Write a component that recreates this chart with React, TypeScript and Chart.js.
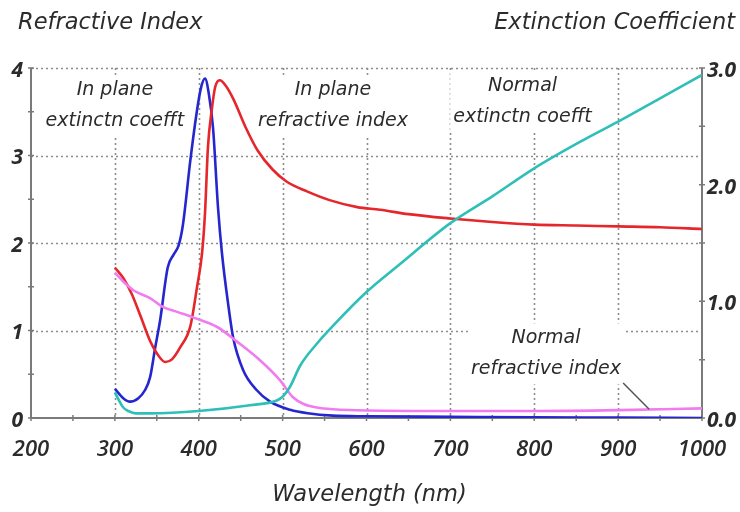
import React, { useEffect, useRef } from "react";
import { Chart, registerables } from "chart.js";

Chart.register(...registerables);

// ---------- data ----------
const wavelengthTicks = [200, 300, 400, 500, 600, 700, 800, 900, 1000];
const leftTicks = [0, 1, 2, 3, 4];
const leftTickLabels = ["0", "1", "2", "3", "4"];
const rightTicks = [0, 1, 2, 3];
const rightTickLabels = ["0.0", "1.0", "2.0", "3.0"];

// In plane refractive index (left axis)
const inPlaneRefrX = [300, 310, 320, 330, 342, 350, 360, 368, 378, 390, 398, 404, 407.5, 411, 415.5, 419.5, 425, 432, 441, 457, 470, 488, 505, 529, 556, 589, 616, 650, 700, 750, 800, 850, 900, 950, 1000];
const inPlaneRefrY = [1.72, 1.6, 1.42, 1.18, 0.88, 0.74, 0.64, 0.67, 0.81, 1.05, 1.5, 1.89, 2.35, 3.1, 3.52, 3.78, 3.86, 3.8, 3.65, 3.3, 3.06, 2.84, 2.7, 2.59, 2.49, 2.41, 2.38, 2.33, 2.28, 2.24, 2.21, 2.2, 2.19, 2.18, 2.16];

// In plane extinction coefficient (right axis)
const inPlaneExtX = [300, 310, 318, 328, 336, 342, 348, 354, 363, 370, 376, 381, 390, 398, 403, 407.5, 412, 417, 423, 427.7, 435, 441, 453, 469, 485, 509, 530, 560, 600, 700, 800, 900, 1000];
const inPlaneExtY = [0.25, 0.17, 0.14, 0.17, 0.24, 0.35, 0.6, 0.84, 1.29, 1.4, 1.48, 1.65, 2.21, 2.64, 2.84, 2.91, 2.78, 2.49, 1.8, 1.41, 0.98, 0.69, 0.41, 0.24, 0.14, 0.07, 0.04, 0.02, 0.015, 0.01, 0.005, 0.003, 0.0];

// Normal extinction coefficient (right axis)
const normalExtX = [300, 305, 310, 316, 325, 342, 400, 461, 493, 501, 509, 521, 540, 560, 600, 640, 700, 750, 800, 858, 900, 950, 1000];
const normalExtY = [0.22, 0.15, 0.09, 0.06, 0.04, 0.04, 0.06, 0.11, 0.15, 0.19, 0.27, 0.45, 0.63, 0.79, 1.08, 1.32, 1.67, 1.9, 2.14, 2.38, 2.54, 2.74, 2.94];

// Normal refractive index (left axis)
const normalRefrX = [300, 310, 322, 342, 357, 375, 393, 422, 446, 473, 497, 512, 525, 541, 560, 600, 700, 800, 900, 1000];
const normalRefrY = [1.66, 1.56, 1.46, 1.37, 1.27, 1.21, 1.15, 1.04, 0.87, 0.66, 0.43, 0.24, 0.16, 0.12, 0.1, 0.085, 0.08, 0.08, 0.09, 0.11];

// Annotation labels (anchored in data coordinates: wavelength, left-axis value)
const annotationLines = [
  ["In plane", "extinctn coefft"],
  ["In plane", "refractive index"],
  ["Normal", "extinctn coefft"],
  ["Normal", "refractive index"],
];
const annotationX = [300, 560, 786, 814];
const annotationY = [3.75, 3.75, 3.79, 0.91];
const pointerFrom = [906, 0.4];
const pointerTo = [937, 0.1];

const leftTitle = "Refractive Index";
const rightTitle = "Extinction Coefficient";
const xTitle = "Wavelength (nm)";

// ---------- styles ----------
const FAMILY = "'DejaVu Sans', 'Open Sans', sans-serif";
const TICK_FAMILY = "'Open Sans', Lato, sans-serif";
const TEXT = "#2b2b2b";
const AXIS = "#7a7a7a";
const GRID = "#8c8c8c";

const toPoints = (xs: number[], ys: number[]) => xs.map((x, i) => ({ x, y: ys[i] }));

const decorPlugin = {
  id: "decor",
  beforeDatasetsDraw(chart: any) {
    const ctx = chart.ctx as CanvasRenderingContext2D;
    const { left, right, top, bottom } = chart.chartArea;
    const xs = chart.scales.x;
    const ys = chart.scales.y;
    const y2 = chart.scales.y2;
    ctx.save();
    // dotted grid
    ctx.strokeStyle = GRID;
    ctx.lineWidth = 1.6;
    ctx.setLineDash([2, 3]);
    for (const v of wavelengthTicks) {
      if (v <= 200 || v >= 1000) continue;
      const px = Math.round(xs.getPixelForValue(v)) + 0.5;
      ctx.beginPath();
      ctx.moveTo(px, top);
      ctx.lineTo(px, bottom);
      ctx.stroke();
    }
    for (const v of leftTicks) {
      if (v === 0) continue;
      const py = Math.round(ys.getPixelForValue(v)) + 0.5;
      ctx.beginPath();
      ctx.moveTo(left, py);
      ctx.lineTo(right, py);
      ctx.stroke();
    }
    ctx.setLineDash([]);
    // white boxes behind labels (break the grid)
    ctx.font = `oblique normal 19px ${FAMILY}`;
    annotationLines.forEach((lines, i) => {
      const cx = xs.getPixelForValue(annotationX[i]);
      const cy = ys.getPixelForValue(annotationY[i]);
      const w = Math.max(...lines.map((t) => ctx.measureText(t).width)) + 6;
      const h0 = cy - 15;
      const h1 = cy + 31 * (lines.length - 1) + 15;
      ctx.fillStyle = "#ffffff";
      ctx.fillRect(cx - w / 2, h0, w, h1 - h0);
    });
    // axes
    ctx.strokeStyle = AXIS;
    ctx.lineWidth = 2;
    ctx.beginPath();
    ctx.moveTo(left, top);
    ctx.lineTo(left, bottom);
    ctx.moveTo(right, top);
    ctx.lineTo(right, bottom);
    ctx.moveTo(left, bottom);
    ctx.lineTo(right, bottom);
    ctx.stroke();
    // tick marks
    ctx.lineWidth = 1.5;
    ctx.beginPath();
    for (let v = 0; v <= 4.001; v += 0.5) {
      const py = ys.getPixelForValue(v);
      ctx.moveTo(left - 3, py);
      ctx.lineTo(left + 3, py);
    }
    for (let v = 0; v <= 3.001; v += 0.5) {
      const py = y2.getPixelForValue(v);
      ctx.moveTo(right - 3, py);
      ctx.lineTo(right + 3, py);
    }
    for (let v = 200; v <= 1000; v += 50) {
      const px = xs.getPixelForValue(v);
      ctx.moveTo(px, bottom - 3);
      ctx.lineTo(px, bottom + 3);
    }
    ctx.stroke();
    ctx.restore();
  },
  afterDatasetsDraw(chart: any) {
    const ctx = chart.ctx as CanvasRenderingContext2D;
    const { left, right, bottom } = chart.chartArea;
    const xs = chart.scales.x;
    const ys = chart.scales.y;
    const y2 = chart.scales.y2;
    ctx.save();
    ctx.fillStyle = TEXT;
    ctx.textBaseline = "middle";
    // annotations
    ctx.font = `oblique normal 19px ${FAMILY}`;
    ctx.textAlign = "center";
    annotationLines.forEach((lines, i) => {
      const cx = xs.getPixelForValue(annotationX[i]);
      const cy = ys.getPixelForValue(annotationY[i]);
      lines.forEach((t, j) => ctx.fillText(t, cx, cy + 31 * j));
    });
    // pointer
    ctx.strokeStyle = "#555555";
    ctx.lineWidth = 1.5;
    ctx.beginPath();
    ctx.moveTo(xs.getPixelForValue(pointerFrom[0]), ys.getPixelForValue(pointerFrom[1]));
    ctx.lineTo(xs.getPixelForValue(pointerTo[0]), ys.getPixelForValue(pointerTo[1]));
    ctx.stroke();
    // x tick labels
    ctx.font = `italic 600 22px ${TICK_FAMILY}`;
    ctx.textAlign = "center";
    wavelengthTicks.forEach((v) => ctx.fillText(String(v), xs.getPixelForValue(v), bottom + 32));
    // left tick labels
    ctx.font = `italic bold 21px ${TICK_FAMILY}`;
    ctx.textAlign = "right";
    leftTicks.forEach((v, i) => ctx.fillText(leftTickLabels[i], left - 8, ys.getPixelForValue(v) + 3));
    // right tick labels
    ctx.textAlign = "left";
    rightTicks.forEach((v, i) => ctx.fillText(rightTickLabels[i], right + 5, y2.getPixelForValue(v) + 3));
    // titles
    ctx.font = `oblique normal 22.5px ${FAMILY}`;
    ctx.textAlign = "left";
    ctx.fillText(leftTitle, 18, 23);
    ctx.textAlign = "right";
    ctx.fillText(rightTitle, 735, 23);
    ctx.textAlign = "center";
    ctx.fillText(xTitle, (left + right) / 2 + 3, 495);
    ctx.restore();
  },
};

export default function App() {
  const ref = useRef<HTMLCanvasElement | null>(null);
  useEffect(() => {
    if (!ref.current) return;
    const common = {
      pointRadius: 0,
      borderWidth: 2.6,
      fill: false,
      cubicInterpolationMode: "monotone" as const,
    };
    const chart = new Chart(ref.current, {
      type: "line",
      data: {
        datasets: [
          { ...common, label: "Normal extinctn coefft", data: toPoints(normalExtX, normalExtY), borderColor: "#2ebfb8", yAxisID: "y2", xAxisID: "x" },
          { ...common, label: "Normal refractive index", data: toPoints(normalRefrX, normalRefrY), borderColor: "#f07cf0", yAxisID: "y", xAxisID: "x" },
          { ...common, label: "In plane refractive index", data: toPoints(inPlaneRefrX, inPlaneRefrY), borderColor: "#e5262b", yAxisID: "y", xAxisID: "x" },
          { ...common, label: "In plane extinctn coefft", data: toPoints(inPlaneExtX, inPlaneExtY), borderColor: "#2626cf", yAxisID: "y2", xAxisID: "x" },
        ],
      },
      options: {
        animation: false,
        responsive: false,
        devicePixelRatio: 1,
        events: [],
        layout: { padding: { left: 31, right: 38, top: 68, bottom: 94 } },
        plugins: { legend: { display: false }, tooltip: { enabled: false }, title: { display: false } },
        scales: {
          x: { type: "linear", min: 200, max: 1000, display: false },
          y: { type: "linear", min: 0, max: 4, display: false },
          y2: { type: "linear", min: 0, max: 3, display: false, position: "right" },
        },
      },
      plugins: [decorPlugin],
    });
    return () => chart.destroy();
  }, []);
  return (
    <div style={{ position: "absolute", left: 0, top: 0, width: 740, height: 512, background: "#fff" }}>
      <canvas ref={ref} width={740} height={512} style={{ width: 740, height: 512 }} />
    </div>
  );
}
